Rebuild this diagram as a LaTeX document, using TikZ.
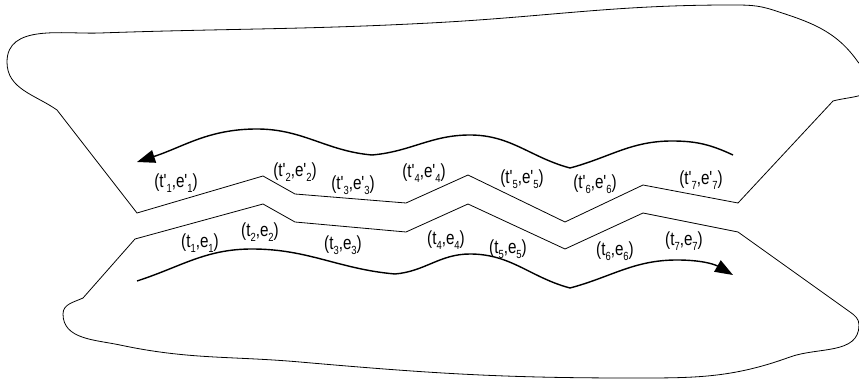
\documentclass[tikz,border=0pt]{standalone}
\usepackage{fontspec}
\setmainfont{Liberation Sans}
\usetikzlibrary{arrows.meta}

% straight prime and lowered index used in the pair labels
\newcommand{\prm}{\textquotesingle}
\newcommand{\idx}[1]{\raisebox{-4.5pt}{\fontsize{11.8}{12}\selectfont #1}}

\tikzset{
  outline/.style={line width=0.8pt, line join=miter},
  flow/.style={line width=1.4pt, -{Triangle[length=18pt,width=13pt]}},
  pair/.style={font=\fontsize{19}{20}\selectfont, inner sep=0pt,
    xscale=0.8, transform shape}
}

\begin{document}
\begin{tikzpicture}[x=1pt,y=1pt]
\useasboundingbox (0,0) rectangle (859,-382);
\clip (0,0) rectangle (859,-382);

% ---------- upper region ----------
\coordinate (uk) at (833,-101);
\coordinate (ul) at (57,-110);
\draw[outline] (uk) to[out=15,in=-110] (878,-80) to[out=100,in=-55] (858,-62)
  to[out=125,in=-18] (773,-10) to[out=162,in=0] (730,-5)
  to[out=180,in=3] (430,-23) to[out=183,in=2] (100,-33)
  to[out=182,in=90] (7,-62) to[out=-90,in=145] (ul)
  -- (137,-213) -- (263,-176) -- (295,-194) -- (406,-203)
  -- (468,-175) -- (565,-222) -- (643,-185) -- (738,-203) -- cycle;

% ---------- lower region ----------
\coordinate (lk) at (83,-298);
\coordinate (lr) at (850,-312);
\draw[outline] (lk) -- (135,-239) -- (263,-204) -- (295,-222) -- (406,-232)
  -- (468,-204) -- (565,-249) -- (643,-213) -- (738,-232) -- (lr)
  to[out=-35,in=90] (859,-325) to[out=-90,in=20] (790,-357)
  to[out=200,in=0] (630,-378) to[out=180,in=-5] (300,-362)
  to[out=175,in=-12] (120,-345) to[out=168,in=-90] (63,-314)
  to[out=90,in=205] (lk);

% ---------- flow arrows ----------
\coordinate (a0) at (733,-155);
\coordinate (a1) at (672,-141);
\coordinate (a2) at (570,-168);
\coordinate (a3) at (470,-135);
\coordinate (a4) at (372,-155);
\coordinate (a5) at (257,-129);
\coordinate (a6) at (137,-162);
\draw[flow] (a0) to[out=155,in=0] (a1) to[out=180,in=15] (a2)
  to[out=165,in=0] (a3) to[out=180,in=5] (a4)
  to[out=175,in=0] (a5) to[out=180,in=18] (a6);

\coordinate (b0) at (137,-281);
\coordinate (b1) at (252,-249);
\coordinate (b2) at (395,-274);
\coordinate (b3) at (470,-254);
\coordinate (b4) at (570,-288);
\coordinate (b5) at (677,-260);
\coordinate (b6) at (733,-275);
\draw[flow] (b0) to[out=18,in=180] (b1) to[out=0,in=175] (b2)
  to[out=5,in=180] (b3) to[out=0,in=165] (b4)
  to[out=15,in=180] (b5) to[out=0,in=150] (b6);

% ---------- labels along the upper boundary ----------
\node[pair] (p1) at (176,-183) {(t\prm\idx{1},e\prm\idx{1})};
\node[pair] (p2) at (295,-172) {(t\prm\idx{2},e\prm\idx{2})};
\node[pair] (p3) at (353,-185) {(t\prm\idx{3},e\prm\idx{3})};
\node[pair] (p4) at (424,-173) {(t\prm\idx{4},e\prm\idx{4})};
\node[pair] (p5) at (522,-179) {(t\prm\idx{5},e\prm\idx{5})};
\node[pair] (p6) at (595,-184) {(t\prm\idx{6},e\prm\idx{6})};
\node[pair] (p7) at (701,-180) {(t\prm\idx{7},e\prm\idx{7})};

% ---------- labels along the lower boundary ----------
\node[pair] (q1) at (200,-243) {(t\idx{1},e\idx{1})};
\node[pair] (q2) at (260,-232) {(t\idx{2},e\idx{2})};
\node[pair] (q3) at (343,-245) {(t\idx{3},e\idx{3})};
\node[pair] (q4) at (446,-240) {(t\idx{4},e\idx{4})};
\node[pair] (q5) at (508,-249) {(t\idx{5},e\idx{5})};
\node[pair] (q6) at (615,-251) {(t\idx{6},e\idx{6})};
\node[pair] (q7) at (684,-241) {(t\idx{7},e\idx{7})};
\end{tikzpicture}
\end{document}
